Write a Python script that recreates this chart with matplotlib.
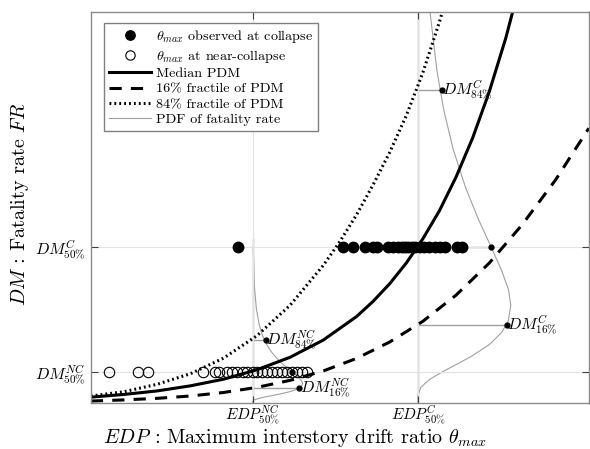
import matplotlib
matplotlib.use('Agg')
import matplotlib.pyplot as plt
import numpy as np

plt.rcParams['font.family'] = 'serif'
plt.rcParams['font.serif'] = ['cmr10', 'DejaVu Serif']
plt.rcParams['mathtext.fontset'] = 'cm'
plt.rcParams['axes.formatter.use_mathtext'] = True

# medians of the demand (x) and damage (y) at near-collapse / collapse
EDP_NC, EDP_C = 0.0195, 0.0394
DM_NC, DM_C = 0.08, 0.40

# observed peak drifts
theta_collapse = [0.0177, 0.0304, 0.0316, 0.0330, 0.0340, 0.0345, 0.0358, 0.0364,
                  0.0370, 0.0375, 0.0378, 0.0382, 0.0387, 0.0390, 0.0396, 0.0402,
                  0.0408, 0.0415, 0.0421, 0.0427, 0.0441, 0.0447]
theta_near = [0.0022, 0.0057, 0.0069, 0.0135, 0.0149, 0.0155, 0.0164, 0.0170,
              0.0176, 0.0183, 0.0188, 0.0195, 0.0200, 0.0206, 0.0212, 0.0218,
              0.0224, 0.0230, 0.0236, 0.0242, 0.0248, 0.0255, 0.0260]

# PDM curves
med_x = [0.000, 0.004, 0.008, 0.012, 0.016, 0.020, 0.024, 0.028, 0.032, 0.034,
         0.036, 0.038, 0.040, 0.042, 0.044, 0.046, 0.048, 0.050, 0.052]
med_y = [0.015, 0.022, 0.031, 0.044, 0.061, 0.085, 0.117, 0.161, 0.221, 0.260,
         0.305, 0.358, 0.420, 0.492, 0.578, 0.678, 0.796, 0.934, 1.096]
p84_x = [0.000, 0.004, 0.008, 0.012, 0.016, 0.020, 0.024, 0.028, 0.030, 0.032,
         0.034, 0.036, 0.038, 0.040, 0.042, 0.044]
p84_y = [0.018, 0.029, 0.048, 0.075, 0.115, 0.172, 0.250, 0.352, 0.413, 0.481,
         0.558, 0.641, 0.735, 0.845, 0.975, 1.120]
p16_x = [0.000, 0.004, 0.008, 0.012, 0.016, 0.020, 0.024, 0.028, 0.032, 0.036,
         0.040, 0.044, 0.048, 0.052, 0.056, 0.060]
p16_y = [0.005, 0.008, 0.012, 0.018, 0.027, 0.040, 0.058, 0.082, 0.114, 0.156,
         0.209, 0.276, 0.358, 0.457, 0.571, 0.703]

# PDF of fatality rate, width measured from the EDP line
pdf_c_y = [0.00, 0.02, 0.04, 0.06, 0.08, 0.10, 0.12, 0.15, 0.18, 0.21, 0.25,
           0.29, 0.34, 0.40, 0.47, 0.55, 0.65, 0.75, 0.85, 1.00]
pdf_c_w = [0.0, 0.00002, 0.00035, 0.00139, 0.00298, 0.00477, 0.00649, 0.00864,
           0.01008, 0.01090, 0.01120, 0.01092, 0.01008, 0.00881, 0.00730,
           0.00577, 0.00424, 0.00312, 0.00230, 0.00147]
pdf_nc_y = [0.000, 0.004, 0.008, 0.012, 0.016, 0.020, 0.024, 0.030, 0.036, 0.042,
            0.050, 0.058, 0.068, 0.080, 0.094, 0.110, 0.130, 0.150, 0.170, 0.200,
            0.240, 0.300, 0.400]
pdf_nc_w = [0.0, 0.00001, 0.00019, 0.00075, 0.00160, 0.00256, 0.00349, 0.00464,
            0.00542, 0.00586, 0.00602, 0.00586, 0.00542, 0.00473, 0.00392,
            0.00310, 0.00228, 0.00167, 0.00123, 0.00079, 0.00045, 0.00020, 0.00006]

# fractile points on the PDFs
frac_c_y = [0.80, 0.40, 0.20]
frac_c_w = [0.00285, 0.00881, 0.01069]
frac_nc_y = [0.161, 0.08, 0.038]
frac_nc_w = [0.00155, 0.00473, 0.00555]

GRAY = '#a0a0a0'

fig = plt.figure(figsize=(5.9, 4.49), dpi=100)
ax = fig.add_axes([0.154, 0.1024, 0.844, 0.8706])

ax.grid(True, color='#e3e3e3', lw=0.8, zorder=0)

# PDFs
ax.plot([EDP_C, EDP_C], [0, 1], color=GRAY, lw=1.0, zorder=1)
ax.plot([EDP_NC, EDP_NC], [0, 0.42], color=GRAY, lw=1.0, zorder=1)
ax.plot(EDP_C + np.array(pdf_c_w), pdf_c_y, color=GRAY, lw=0.8, zorder=1,
        label='PDF of fatality rate')
ax.plot(EDP_NC + np.array(pdf_nc_w), pdf_nc_y, color=GRAY, lw=0.8, zorder=1)
for y, w in zip(frac_c_y, frac_c_w):
    ax.plot([EDP_C, EDP_C + w], [y, y], color=GRAY, lw=1.0, zorder=1)
for y, w in zip(frac_nc_y, frac_nc_w):
    ax.plot([EDP_NC, EDP_NC + w], [y, y], color=GRAY, lw=1.0, zorder=1)
ax.plot(EDP_C + np.array(frac_c_w), frac_c_y, 'o', color='black', ms=3.5, zorder=4)
ax.plot(EDP_NC + np.array(frac_nc_w), frac_nc_y, 'o', color='black', ms=3.5, zorder=4)

# data
ax.plot(theta_collapse, [DM_C] * len(theta_collapse), 'o', color='black', ms=7.5,
        zorder=3, label=r'$\theta_{max}$ observed at collapse')
ax.plot(theta_near, [DM_NC] * len(theta_near), 'o', mfc='none', mec='black', mew=0.8,
        ms=7.5, zorder=3, label=r'$\theta_{max}$ at near-collapse')

# PDM
ax.plot(med_x, med_y, '-', color='black', lw=2.2, zorder=2, label='Median PDM')
ax.plot(p16_x, p16_y, color='black', lw=2.2, ls=(0, (4, 3)), zorder=2,
        label='16% fractile of PDM')
ax.plot(p84_x, p84_y, color='black', lw=2.2, ls=(0, (0.6, 1.0)), zorder=2,
        label='84% fractile of PDM')

# annotations
FS = 11.5
ax.text(EDP_C + frac_c_w[0] + 0.0001, frac_c_y[0], r'$DM^{C}_{84\%}$', fontsize=FS,
        va='center', ha='left')
ax.text(EDP_C + frac_c_w[2] + 0.0001, frac_c_y[2], r'$DM^{C}_{16\%}$', fontsize=FS,
        va='center', ha='left')
ax.text(EDP_NC + frac_nc_w[0] + 0.0001, frac_nc_y[0], r'$DM^{NC}_{84\%}$', fontsize=FS,
        va='center', ha='left')
ax.text(EDP_NC + frac_nc_w[2] + 0.0001, frac_nc_y[2], r'$DM^{NC}_{16\%}$', fontsize=FS,
        va='center', ha='left')

ax.set_xlim(0, 0.06)
ax.set_ylim(0, 1)
ax.set_xticks([EDP_NC, EDP_C])
ax.set_xticklabels([r'$EDP^{NC}_{50\%}$', r'$EDP^{C}_{50\%}$'], fontsize=11)
ax.set_yticks([DM_NC, DM_C])
ax.set_yticklabels([r'$DM^{NC}_{50\%}$', r'$DM^{C}_{50\%}$'], fontsize=FS)
ax.tick_params(direction='in', top=True, right=True, length=5, width=0.8,
               color='#404040', pad=4)
ax.tick_params(axis='x', pad=0.5)
for s in ax.spines.values():
    s.set_color('#8c8c8c')
    s.set_linewidth(1.0)

ax.set_xlabel(r'$EDP$ : Maximum interstory drift ratio $\theta_{max}$', fontsize=14.5)
ax.xaxis.set_label_coords(0.41, -0.089)
ax.xaxis.label.set_va('center')
ax.set_ylabel(r'$DM$ : Fatality rate $FR$', fontsize=14.5)
ax.yaxis.set_label_coords(-0.143, 0.51)
ax.yaxis.label.set_va('center')

handles, labels = ax.get_legend_handles_labels()
order = [1, 2, 3, 4, 5, 0]
leg = ax.legend([handles[i] for i in order], [labels[i] for i in order],
                loc='upper left', bbox_to_anchor=(0.026, 0.972), borderaxespad=0,
                fontsize=10.2, handlelength=3.0, handletextpad=0.3, labelspacing=0.18,
                fancybox=False, framealpha=1, edgecolor='#808080', borderpad=0.35,
                markerscale=0.9)
leg.get_frame().set_linewidth(1.0)

fig.savefig('out.png', dpi=100)
